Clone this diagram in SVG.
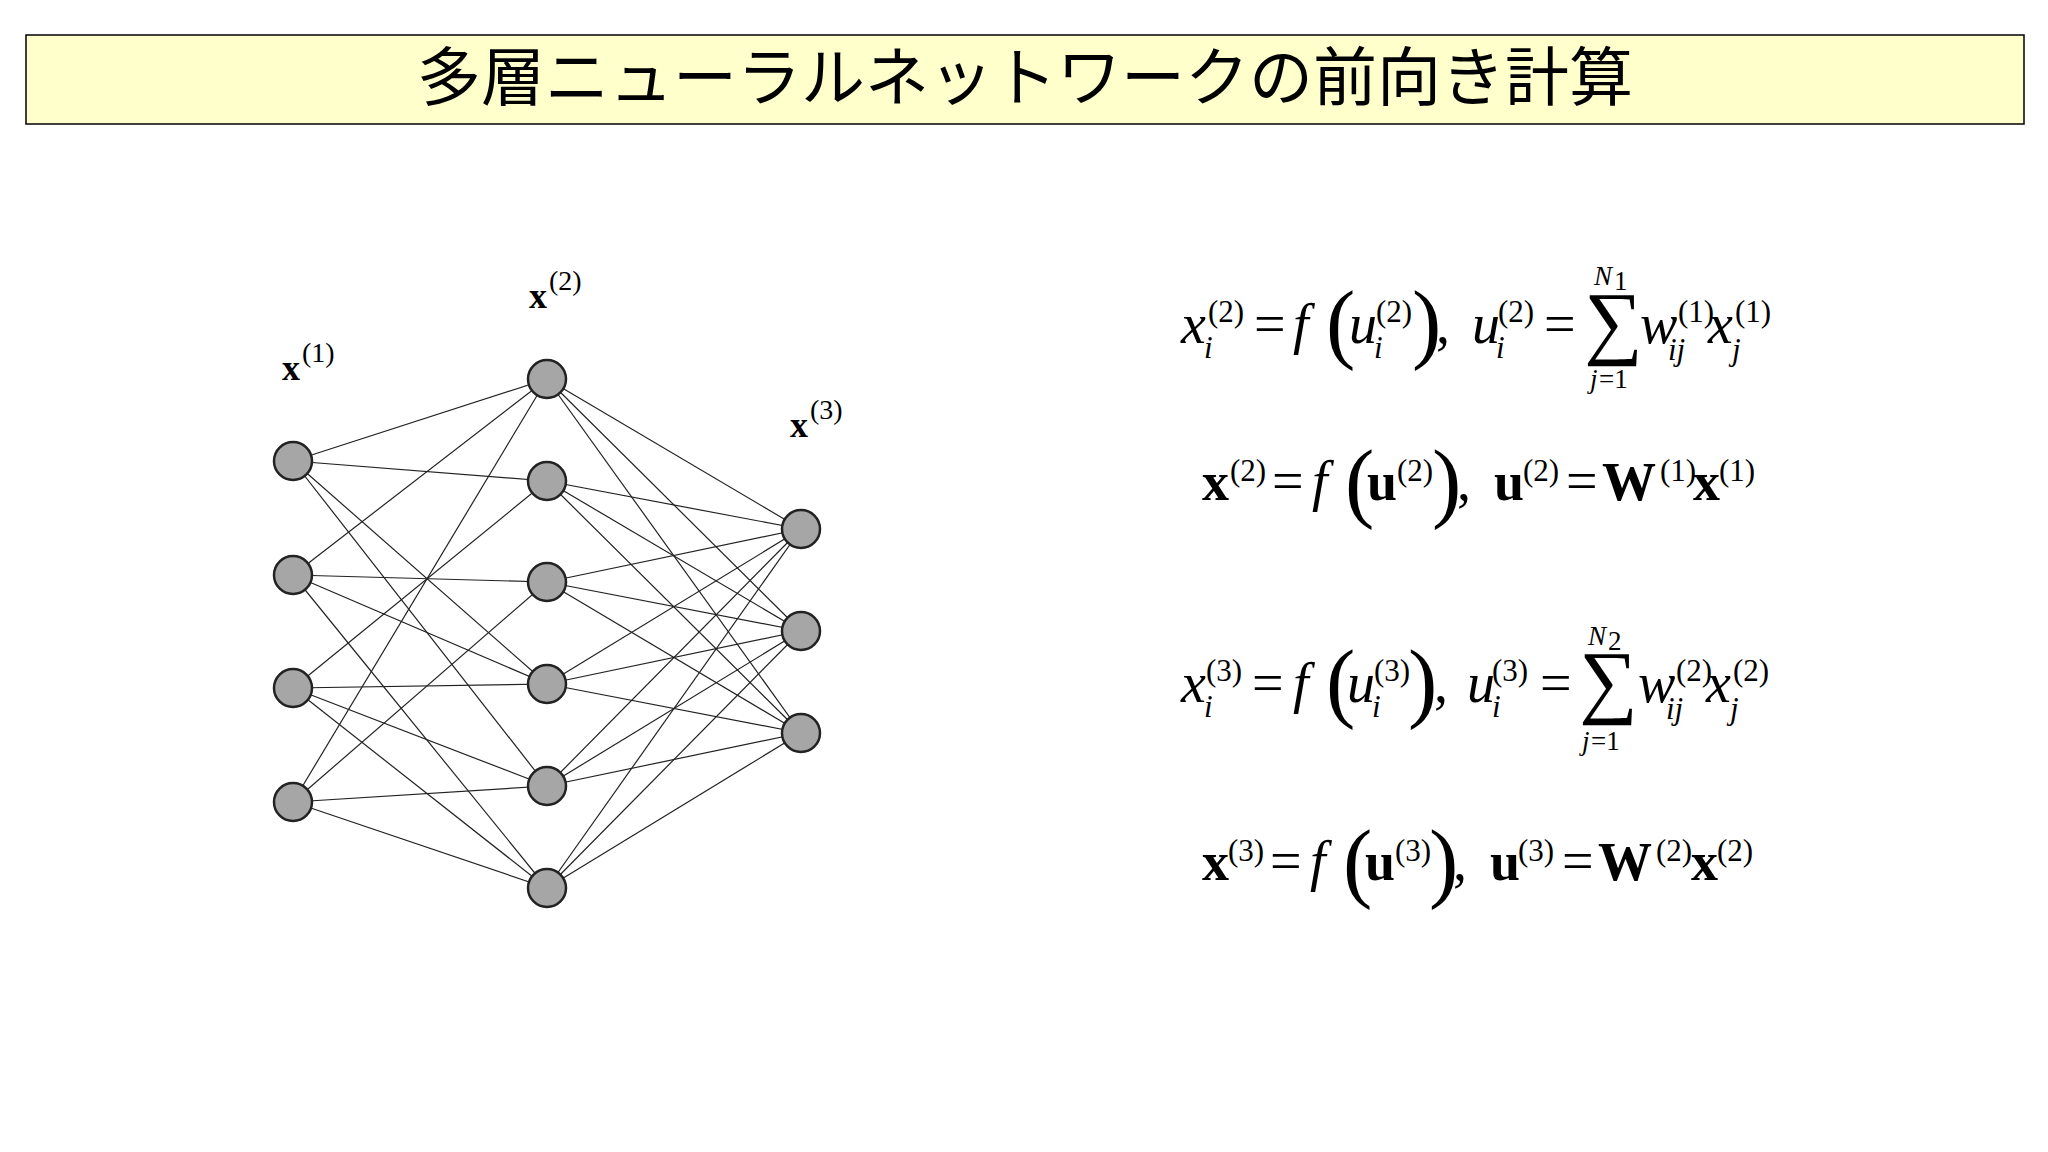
<svg xmlns="http://www.w3.org/2000/svg" width="2048" height="1152" viewBox="0 0 2048 1152">
<style>
.n{fill:#a6a6a6;stroke:#222;stroke-width:2.5}
.e{stroke:#222;stroke-width:1.2}
text{font-family:"Liberation Serif","Times New Roman",serif;fill:#000}
.m{font-size:56px;font-style:italic}
.b{font-size:54px;font-weight:bold}
.r{font-size:56px}
.s{font-size:31px}
.si{font-size:31px;font-style:italic}
.t{font-size:27px}
.ti{font-size:27px;font-style:italic}
.p{font-size:88px}
.S{font-size:82px}
.L{font-size:36px;font-weight:bold}
</style>
<rect width="2048" height="1152" fill="#fff"/>
<g id="title"><rect x="26" y="35" width="1998" height="89" fill="#ffffcc" stroke="#000" stroke-width="1.5"/>
<text x="1025" y="100" text-anchor="middle" style="font-family:'Noto Sans CJK JP','Noto Sans',sans-serif;font-size:64px">多層ニューラルネットワークの前向き計算</text></g>
<g id="connectors">
<line class="e" x1="293" y1="461" x2="547" y2="379"/><line class="e" x1="293" y1="461" x2="547" y2="481"/><line class="e" x1="293" y1="461" x2="547" y2="684"/><line class="e" x1="293" y1="461" x2="547" y2="786"/>
<line class="e" x1="293" y1="575" x2="547" y2="379"/><line class="e" x1="293" y1="575" x2="547" y2="582"/><line class="e" x1="293" y1="575" x2="547" y2="684"/><line class="e" x1="293" y1="575" x2="547" y2="888"/>
<line class="e" x1="293" y1="688" x2="547" y2="481"/><line class="e" x1="293" y1="688" x2="547" y2="684"/><line class="e" x1="293" y1="688" x2="547" y2="786"/><line class="e" x1="293" y1="688" x2="547" y2="888"/>
<line class="e" x1="293" y1="802" x2="547" y2="379"/><line class="e" x1="293" y1="802" x2="547" y2="582"/><line class="e" x1="293" y1="802" x2="547" y2="786"/><line class="e" x1="293" y1="802" x2="547" y2="888"/>
<line class="e" x1="547" y1="379" x2="801" y2="529"/><line class="e" x1="547" y1="379" x2="801" y2="631"/><line class="e" x1="547" y1="379" x2="801" y2="733"/>
<line class="e" x1="547" y1="481" x2="801" y2="529"/><line class="e" x1="547" y1="481" x2="801" y2="631"/><line class="e" x1="547" y1="481" x2="801" y2="733"/>
<line class="e" x1="547" y1="582" x2="801" y2="529"/><line class="e" x1="547" y1="582" x2="801" y2="631"/><line class="e" x1="547" y1="582" x2="801" y2="733"/>
<line class="e" x1="547" y1="684" x2="801" y2="529"/><line class="e" x1="547" y1="684" x2="801" y2="631"/><line class="e" x1="547" y1="684" x2="801" y2="733"/>
<line class="e" x1="547" y1="786" x2="801" y2="529"/><line class="e" x1="547" y1="786" x2="801" y2="631"/><line class="e" x1="547" y1="786" x2="801" y2="733"/>
<line class="e" x1="547" y1="888" x2="801" y2="529"/><line class="e" x1="547" y1="888" x2="801" y2="631"/><line class="e" x1="547" y1="888" x2="801" y2="733"/>
</g>
<g id="layer1"><circle class="n" cx="293" cy="461" r="19"/><circle class="n" cx="293" cy="575" r="19"/><circle class="n" cx="293" cy="688" r="19"/><circle class="n" cx="293" cy="802" r="19"/>
<text class="L" x="282" y="380">x</text><text class="s" x="302" y="362" style="font-size:28px">(1)</text></g>
<g id="layer2"><circle class="n" cx="547" cy="379" r="19"/><circle class="n" cx="547" cy="481" r="19"/><circle class="n" cx="547" cy="582" r="19"/><circle class="n" cx="547" cy="684" r="19"/><circle class="n" cx="547" cy="786" r="19"/><circle class="n" cx="547" cy="888" r="19"/>
<text class="L" x="529" y="308">x</text><text class="s" x="549" y="290" style="font-size:28px">(2)</text></g>
<g id="layer3"><circle class="n" cx="801" cy="529" r="19"/><circle class="n" cx="801" cy="631" r="19"/><circle class="n" cx="801" cy="733" r="19"/>
<text class="L" x="790" y="437">x</text><text class="s" x="810" y="419" style="font-size:28px">(3)</text></g>
<g id="eq1">
<text class="m" x="1181" y="343">x</text><text class="si" x="1204" y="358">i</text><text class="s" x="1208" y="322">(2)</text>
<text class="r" x="1254" y="343">=</text><text class="m" x="1293" y="343">f</text>
<text class="p" x="1326" y="352">(</text>
<text class="m" x="1349" y="343">u</text><text class="si" x="1374" y="358">i</text><text class="s" x="1376" y="322">(2)</text>
<text class="p" x="1412" y="352">)</text><text class="r" x="1436" y="343">,</text>
<text class="m" x="1472" y="343">u</text><text class="si" x="1496" y="358">i</text><text class="s" x="1498" y="322">(2)</text>
<text class="r" x="1544" y="343">=</text>
<text class="S" x="1584" y="349">∑</text>
<text class="ti" x="1594" y="285">N</text><text class="t" x="1614" y="290">1</text>
<text class="ti" x="1590" y="388">j</text><text class="t" x="1599" y="388">=1</text>
<text class="m" x="1640" y="343">w</text><text class="si" x="1668" y="360">ij</text><text class="s" x="1678" y="322">(1)</text>
<text class="m" x="1708" y="343">x</text><text class="si" x="1732" y="360">j</text><text class="s" x="1735" y="322">(1)</text>
</g>
<g id="eq2">
<text class="b" x="1202" y="500">x</text><text class="s" x="1230" y="481">(2)</text>
<text class="r" x="1272" y="500">=</text><text class="m" x="1312" y="500">f</text>
<text class="p" x="1345" y="511">(</text>
<text class="b" x="1367" y="500">u</text><text class="s" x="1397" y="481">(2)</text>
<text class="p" x="1432" y="511">)</text><text class="r" x="1457" y="500">,</text>
<text class="b" x="1494" y="500">u</text><text class="s" x="1523" y="481">(2)</text>
<text class="r" x="1566" y="500">=</text>
<text class="b" x="1602" y="500">W</text><text class="s" x="1660" y="481">(1)</text>
<text class="b" x="1693" y="500">x</text><text class="s" x="1719" y="481">(1)</text>
</g>
<g id="eq3">
<text class="m" x="1181" y="702">x</text><text class="si" x="1204" y="717">i</text><text class="s" x="1206" y="681">(3)</text>
<text class="r" x="1252" y="702">=</text><text class="m" x="1293" y="702">f</text>
<text class="p" x="1326" y="711">(</text>
<text class="m" x="1347" y="702">u</text><text class="si" x="1372" y="717">i</text><text class="s" x="1374" y="681">(3)</text>
<text class="p" x="1408" y="711">)</text><text class="r" x="1434" y="702">,</text>
<text class="m" x="1467" y="702">u</text><text class="si" x="1492" y="717">i</text><text class="s" x="1492" y="681">(3)</text>
<text class="r" x="1540" y="702">=</text>
<text class="S" x="1579" y="708">∑</text>
<text class="ti" x="1588" y="645">N</text><text class="t" x="1608" y="650">2</text>
<text class="ti" x="1582" y="750">j</text><text class="t" x="1591" y="750">=1</text>
<text class="m" x="1638" y="702">w</text><text class="si" x="1666" y="719">ij</text><text class="s" x="1676" y="681">(2)</text>
<text class="m" x="1706" y="702">x</text><text class="si" x="1730" y="719">j</text><text class="s" x="1733" y="681">(2)</text>
</g>
<g id="eq4">
<text class="b" x="1202" y="880">x</text><text class="s" x="1228" y="861">(3)</text>
<text class="r" x="1270" y="880">=</text><text class="m" x="1310" y="880">f</text>
<text class="p" x="1343" y="891">(</text>
<text class="b" x="1365" y="880">u</text><text class="s" x="1395" y="861">(3)</text>
<text class="p" x="1429" y="891">)</text><text class="r" x="1453" y="880">,</text>
<text class="b" x="1490" y="880">u</text><text class="s" x="1518" y="861">(3)</text>
<text class="r" x="1562" y="880">=</text>
<text class="b" x="1598" y="880">W</text><text class="s" x="1656" y="861">(2)</text>
<text class="b" x="1691" y="880">x</text><text class="s" x="1717" y="861">(2)</text>
</g>
</svg>
